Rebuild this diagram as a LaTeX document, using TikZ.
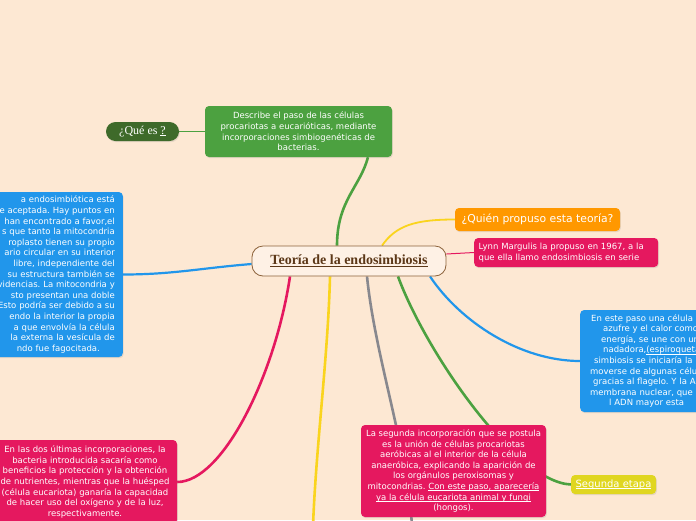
\documentclass[tikz,border=0pt]{standalone}
\usepackage{fontspec}
\usepackage{tikz}
\usetikzlibrary{positioning, backgrounds, shadows}
\newfontfamily\djsans{DejaVu Sans}
\newfontfamily\lserif{Liberation Serif}
\frenchspacing
\newcommand\ulin[1]{\setbox0\hbox{#1}\rlap{\rule[-1.5pt]{\wd0}{0.5pt}}\box0}
\definecolor{cPaper}{RGB}{253,232,211}
\definecolor{cGreen}{RGB}{76,161,64}
\definecolor{cDarkGreen}{RGB}{62,106,42}
\definecolor{cOrange}{RGB}{255,152,0}
\definecolor{cPink}{RGB}{229,24,95}
\definecolor{cBlue}{RGB}{33,150,235}
\definecolor{cYellow}{RGB}{250,212,30}
\definecolor{cGray}{RGB}{136,136,142}
\definecolor{cLime}{RGB}{224,214,32}
\definecolor{cBrown}{RGB}{140,98,58}
\definecolor{cTitle}{RGB}{92,56,24}
\tikzset{
	topic/.style   ={rectangle, rounded corners=4pt, text=white, align=center, inner sep=4pt,
	                 font=\djsans\fontsize{8.5}{10.6}\selectfont,
	                 drop shadow={opacity=0.18, shadow xshift=0.8pt, shadow yshift=-1.2pt}},
	greenbox/.style={topic, fill=cGreen},
	pinkbox/.style ={topic, fill=cPink},
	bluebox/.style ={topic, fill=cBlue},
	label/.style   ={topic, fill=cOrange, font=\djsans\fontsize{10.8}{12}\selectfont},
	central/.style ={rectangle, rounded corners=11pt, draw=cBrown, thick, fill=cPaper!60!white,
	                 minimum width=194pt, minimum height=30pt, text=cTitle,
	                 font=\lserif\bfseries\fontsize{14}{16}\selectfont},
	branch/.style  ={line width=2.6pt},
	twig/.style    ={line width=1pt},
}

\begin{document}
\begin{tikzpicture}[x=1pt, y=-1pt]
	\useasboundingbox (0,0) rectangle (696,520);
	% centre
	\node[central] (teoria) at (349,261) {\underline{Teoría de la endosimbiosis}};
	% upper branch
	\node[greenbox, minimum width=187pt, minimum height=51pt] (descr) at (298.5,131.5)
		{Describe el paso de las células\\procariotas a eucarióticas, mediante\\incorporaciones simbiogenéticas de\\bacterias.};
	\node[topic, fill=cDarkGreen, rounded corners=9.5pt, minimum width=73pt, minimum height=19pt,
		inner sep=2pt, font=\lserif\fontsize{12}{13}\selectfont] (quees) at (142.5,131.5) {¿Qué es \ulin{?}};
	% right side
	\node[label, minimum width=165pt, minimum height=23pt] (quien) at (537.5,219.5) {¿Quién propuso esta teoría?};
	\node[pinkbox, align=left, text width=175pt, minimum height=29pt, anchor=west, inner xsep=4.5pt] (lynn) at (474,252.5)
		{Lynn Margulis la propuso en 1967, a la\\que ella llamo endosimbiosis en serie};
	\node[bluebox, align=left, text width=150pt, minimum height=102pt, anchor=west, inner xsep=10pt] (blueR) at (580,361)
		{\hspace*{1pt}En este paso una célula\\\hspace*{13pt}azufre y el calor como\\\hspace*{11pt}energía, se une con un\\\hspace*{13pt}nadadora,\ulin{(espiroqueta}\\\hspace*{4pt}simbiosis se iniciaría la\\moverse de algunas célu\\\hspace*{3pt}gracias al flagelo. Y la Ap\\membrana nuclear, que le\\\hspace*{19pt}l ADN mayor esta};
	% left side
	\node[bluebox, align=right, text width=150pt, minimum height=165pt, anchor=east, inner xsep=8pt] (blueL) at (123,274.5)
		{a endosimbiótica está\hspace*{20pt}\\e aceptada. Hay puntos en\\han encontrado a favor,el\hspace*{5pt}\\s que tanto la mitocondria\hspace*{2pt}\\roplasto tienen su propio\hspace*{6pt}\\ario circular en su interior\hspace*{2pt}\\libre, independiente del\hspace*{8pt}\\su estructura también se\hspace*{5pt}\\videncias. La mitocondria y\\sto presentan una doble\hspace*{5pt}\\Esto podría ser debido a su\\endo la interior la propia\hspace*{12pt}\\a que envolvía la célula\hspace*{12pt}\\la externa la vesícula de\hspace*{5pt}\\ndo fue fagocitada.\hspace*{15pt}};
	\node[pinkbox, text width=176pt, minimum height=84pt] (pinkBL) at (85,482)
		{En las dos últimas incorporaciones, la\\bacteria introducida sacaría como\\beneficios la protección y la obtención\\de nutrientes, mientras que la huésped\\(célula eucariota) ganaría la capacidad\\de hacer uso del oxígeno y de la luz,\\respectivamente.};
	% lower branch
	\node[pinkbox, minimum width=185pt, minimum height=92pt] (segpink) at (453.5,471)
		{La segunda incorporación que se postula\\es la unión de células procariotas\\aeróbicas al el interior de la célula\\anaeróbica, explicando la aparición de\\los orgánulos peroxisomas y\\mitocondrias. \ulin{Con este paso, aparecería}\\\ulin{ya la célula eucariota animal y fungi}\\(hongos).};
	\node[topic, fill=cLime, minimum width=85pt, minimum height=19pt, inner sep=2pt,
		font=\djsans\fontsize{10}{11}\selectfont] (segunda) at (613.5,484.5) {\ulin{Segunda etapa}};
	\coordinate (ydown) at (313,526);
	\coordinate (gdown) at (412,526);

	\begin{scope}[on background layer]
		\fill[cPaper] (0,0) rectangle (696,520);
		\draw[branch, cGreen] ([xshift=-12pt]teoria.north) .. controls +(0,-45) and +(-8,30) .. ([xshift=69.5pt]descr.south);
		\draw[twig, cGreen] (quees.east) -- (descr.west);
		\draw[line width=1.8pt, cYellow] ([xshift=33pt]teoria.north) .. controls +(14,-20) and +(-40,0) .. (quien.west);
		\draw[twig, cPink] ([yshift=7pt]teoria.east) -- (lynn.west);
		\draw[line width=2.2pt, cBlue] ([xshift=81pt]teoria.south) .. controls +(30,45) and +(-60,0) .. (blueR.west);
		\draw[line width=2.2pt, cBlue] ([yshift=-3pt]teoria.west) .. controls +(-50,4) and +(50,0) .. (blueL.east);
		\draw[branch, cPink] ([xshift=-59pt]teoria.south) .. controls +(-15,100) and +(45,0) .. (pinkBL.east);
		\draw[branch, cYellow] ([xshift=-19pt]teoria.south) .. controls +(-2,80) and +(3,-80) .. (ydown);
		\draw[branch, cGray] ([xshift=18pt]teoria.south) .. controls +(8,80) and +(-5,-80) .. (gdown);
		\draw[branch, cGreen] ([xshift=49pt]teoria.south) .. controls +(27,74) and +(-56,-2.5) .. (segunda.west);
	\end{scope}
\end{tikzpicture}
\end{document}
